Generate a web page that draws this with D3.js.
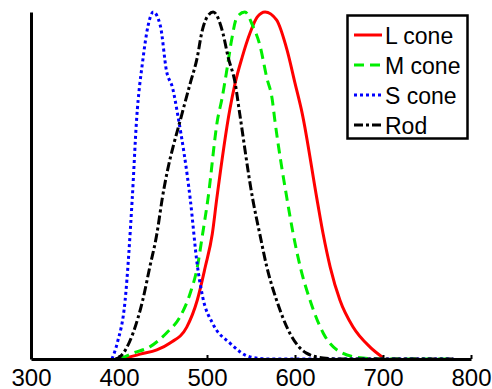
<!DOCTYPE html>
<html><head><meta charset="utf-8">
<script src="https://cdn.jsdelivr.net/npm/d3@7"></script>
<style>body{margin:0;background:#fff}svg{display:block}</style>
</head><body>
<svg id="c" width="492" height="389"></svg>
<script>
const xTicks = [300, 400, 500, 600, 700, 800];
const seriesNames = ["L cone", "M cone", "S cone", "Rod"];

const lWave = [404, 424, 443, 458, 477, 489, 498, 506, 511, 526, 532, 540, 549, 557, 566, 579, 591, 600, 608, 625, 632, 640, 651, 666, 685, 700];
const lVal  = [0.0, 0.014, 0.026, 0.046, 0.092, 0.17, 0.265, 0.36, 0.46, 0.72, 0.795, 0.87, 0.94, 0.985, 1.0, 0.977, 0.89, 0.795, 0.71, 0.46, 0.36, 0.265, 0.17, 0.092, 0.035, 0.004];

const mWave = [401, 416, 435, 454, 469, 481, 489, 495, 501, 512, 517, 523, 528, 534, 543, 552, 560, 568, 574, 577, 591, 598, 606, 617, 632, 654, 677, 700, 780];
const mVal  = [0.0, 0.017, 0.035, 0.075, 0.12, 0.19, 0.265, 0.36, 0.46, 0.69, 0.75, 0.84, 0.92, 0.985, 1.0, 0.96, 0.905, 0.81, 0.75, 0.69, 0.46, 0.36, 0.265, 0.17, 0.075, 0.017, 0.003, 0.0, 0.0];

const sWave = [392, 398, 407, 415, 420, 427, 433, 439, 447, 454, 461, 467, 481, 489, 495, 507, 526, 549, 570, 780];
const sVal  = [0.0, 0.046, 0.17, 0.46, 0.69, 0.86, 0.96, 1.0, 0.96, 0.83, 0.78, 0.70, 0.46, 0.27, 0.18, 0.10, 0.046, 0.006, 0.0, 0.0];

const rWave = [396, 401, 416, 427, 435, 443, 449, 473, 481, 489, 494, 500, 507, 518, 524, 532, 537, 552, 560, 568, 579, 594, 613, 632, 650, 780];
const rVal  = [0.0, 0.006, 0.075, 0.17, 0.265, 0.36, 0.46, 0.72, 0.795, 0.87, 0.94, 0.985, 1.0, 0.94, 0.87, 0.795, 0.71, 0.46, 0.36, 0.265, 0.17, 0.075, 0.017, 0.003, 0.0, 0.0];

const colors = ["#ff0000", "#00ee00", "#0000ff", "#000000"];
const dashes = [null, "10,6", "3,3", "9,3,3,3"];

const svg = d3.select("#c");
const x = d3.scaleLinear().domain([300, 800]).range([31, 471]);
const y = d3.scaleLinear().domain([0, 1]).range([359, 12]);

const series = [
  {name: seriesNames[0], w: lWave, v: lVal},
  {name: seriesNames[1], w: mWave, v: mVal},
  {name: seriesNames[2], w: sWave, v: sVal},
  {name: seriesNames[3], w: rWave, v: rVal}
];

const line = d3.line().x(d => x(d[0])).y(d => y(d[1])).curve(d3.curveMonotoneX);

series.forEach((s, i) => {
  svg.append("path")
    .datum(s.w.map((w, k) => [w, s.v[k]]))
    .attr("d", line)
    .attr("fill", "none")
    .attr("stroke", colors[i])
    .attr("stroke-width", 3)
    .attr("stroke-dasharray", dashes[i]);
});

// axes
const xAxis = d3.axisBottom(x).tickValues(xTicks).tickSizeInner(-4).tickSizeOuter(0).tickPadding(10);
const gx = svg.append("g").attr("transform", "translate(0,359)").call(xAxis);
gx.select(".domain").attr("stroke", "#000").attr("stroke-width", 3);
gx.selectAll(".tick line").attr("stroke", "#000").attr("stroke-width", 2);
gx.selectAll(".tick text").attr("font-family", "Liberation Sans, Arial, sans-serif").attr("font-size", 24).attr("fill", "#000");

const yAxis = d3.axisLeft(y).tickValues([]).tickSizeOuter(0);
const gy = svg.append("g").attr("transform", "translate(31,0)").call(yAxis);
gy.select(".domain").attr("stroke", "#000").attr("stroke-width", 3);

// legend
const lg = svg.append("g");
lg.append("rect").attr("x", 347.5).attr("y", 15.5).attr("width", 120).attr("height", 123)
  .attr("fill", "#fff").attr("stroke", "#000").attr("stroke-width", 2.5);
series.forEach((s, i) => {
  const cy = 35 + i * 30;
  lg.append("line").attr("x1", 354).attr("x2", 382).attr("y1", cy).attr("y2", cy)
    .attr("stroke", colors[i]).attr("stroke-width", 3).attr("stroke-dasharray", dashes[i]);
  lg.append("text").attr("x", 385).attr("y", cy + 8.5)
    .attr("font-family", "Liberation Sans, Arial, sans-serif").attr("font-size", 23)
    .attr("fill", "#000").text(s.name);
});
</script>
</body></html>
